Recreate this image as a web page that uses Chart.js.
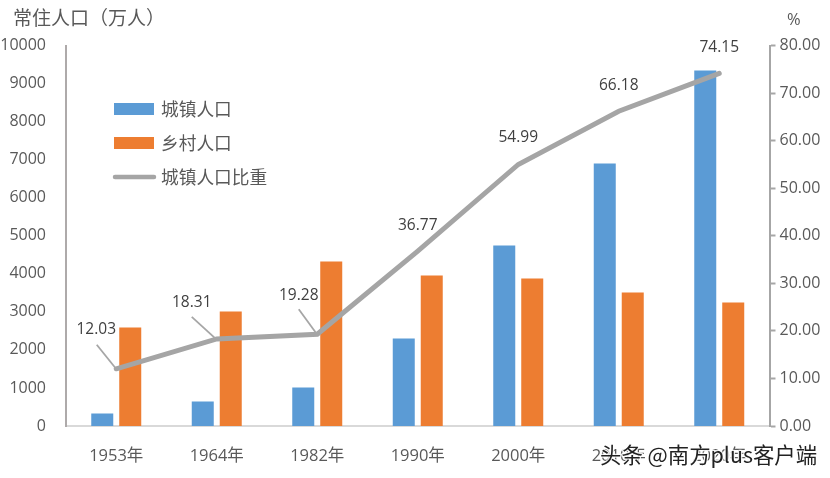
<!DOCTYPE html>
<html><head><meta charset="utf-8">
<style>html,body{margin:0;padding:0;background:#fff}canvas{display:block}</style>
<script src="https://cdn.jsdelivr.net/npm/chart.js@4"></script>
</head><body><canvas id="c" width="830" height="478"></canvas>
<script>
const categories=['1953年','1964年','1982年','1990年','2000年','2010年','2020年'];
const urbanPop=[330,645,1012,2300,4745,6900,9345];
const ruralPop=[2590,3010,4323,3955,3877,3510,3245];
const urbanShare=[12.03,18.31,19.28,36.77,54.99,66.18,74.15];
const shareLabels=['12.03','18.31','19.28','36.77','54.99','66.18','74.15'];
const leftTitle='常住人口（万人）';
const rightTitle='%';
const watermark='头条 @南方plus客户端';

const CJK='"Noto Sans CJK SC","Noto Sans",sans-serif';
const NUM='"Open Sans","Noto Sans CJK SC",sans-serif';
const TXT='#595959';
const labelOffsets=[[-20,-39],[-25,-36],[-18.5,-39],[0,-25.6],[0,-27],[0,-26],[0,-26]];
const leaders=[[[-19.5,-24],[-1,-1]],[[-25,-22],[-2,-1]],[[-18.5,-25],[-1,-1]],null,null,null,null];

const overlay={id:'overlay',afterDatasetsDraw(chart){
  const c=chart.ctx;c.save();
  const pts=chart.getDatasetMeta(2).data;
  pts.forEach((p,i)=>{
    const l=leaders[i];
    if(l){c.strokeStyle='#A6A6A6';c.lineWidth=1.8;c.beginPath();
      c.moveTo(p.x+l[0][0],p.y+l[0][1]);c.lineTo(p.x+l[1][0],p.y+l[1][1]);c.stroke();}
    c.fillStyle='#404040';c.font='15.5px '+NUM;c.textAlign='center';c.textBaseline='middle';
    c.fillText(shareLabels[i],p.x+labelOffsets[i][0],p.y+labelOffsets[i][1]);
  });
  const ds=chart.data.datasets,ys=[109,143,177];
  ds.forEach((d,i)=>{
    if(d.type==='line'){c.strokeStyle=d.borderColor;c.lineWidth=4.5;c.lineCap='round';
      c.beginPath();c.moveTo(115,ys[i]);c.lineTo(154,ys[i]);c.stroke();}
    else{c.fillStyle=d.backgroundColor;c.fillRect(114,ys[i]-6,40,12);}
    c.fillStyle=TXT;c.font='17.7px '+CJK;c.textAlign='left';c.textBaseline='middle';
    c.fillText(d.label,161,ys[i]);
  });
  c.fillStyle=TXT;c.font='19px '+CJK;c.textAlign='left';c.textBaseline='middle';
  c.fillText(leftTitle,13,18);
  c.font='16.5px '+NUM;c.fillText(rightTitle,787,20);
  c.font='21.4px '+CJK;c.textBaseline='middle';c.textAlign='left';
  c.strokeStyle='rgba(255,255,255,.85)';c.lineWidth=2.5;c.lineJoin='round';
  c.strokeText(watermark,600,455);
  c.fillStyle='#222';c.fillText(watermark,600,455);
  c.restore();
}};

new Chart(document.getElementById('c'),{
  data:{labels:categories,datasets:[
    {type:'bar',label:'城镇人口',data:urbanPop,backgroundColor:'#5B9BD5',yAxisID:'y',order:2,categoryPercentage:0.557,barPercentage:0.786},
    {type:'bar',label:'乡村人口',data:ruralPop,backgroundColor:'#ED7D31',yAxisID:'y',order:2,categoryPercentage:0.557,barPercentage:0.786},
    {type:'line',label:'城镇人口比重',data:urbanShare,borderColor:'#A5A5A5',backgroundColor:'#A5A5A5',borderWidth:5,pointRadius:0,tension:0,yAxisID:'y2',order:1,borderCapStyle:'round',borderJoinStyle:'miter'}
  ]},
  options:{responsive:false,animation:false,devicePixelRatio:1,
    layout:{padding:{top:45.5,left:0,right:0,bottom:0}},
    plugins:{legend:{display:false},title:{display:false},tooltip:{enabled:false}},
    scales:{
      x:{grid:{display:false},border:{color:'#D9D9D9',width:2},
        ticks:{color:TXT,font:{family:NUM,size:16.5},padding:12,maxRotation:0},
        afterFit(s){s.height=52;}},
      y:{position:'left',min:0,max:10000,grid:{display:false},border:{color:'#AEAAAA',width:2},
        ticks:{stepSize:1000,color:TXT,font:{family:NUM,size:16},padding:12,callback:v=>String(v)},
        afterFit(s){s.width=66;}},
      y2:{position:'right',min:0,max:80,grid:{drawOnChartArea:false,tickLength:6,tickColor:'#A6A6A6',tickWidth:2},border:{color:'#A6A6A6',width:2},
        ticks:{stepSize:10,color:TXT,font:{family:NUM,size:16},padding:4,callback:v=>v.toFixed(2)},
        afterFit(s){s.width=60.5;}}
    }
  },
  plugins:[overlay]
});
</script></body></html>
